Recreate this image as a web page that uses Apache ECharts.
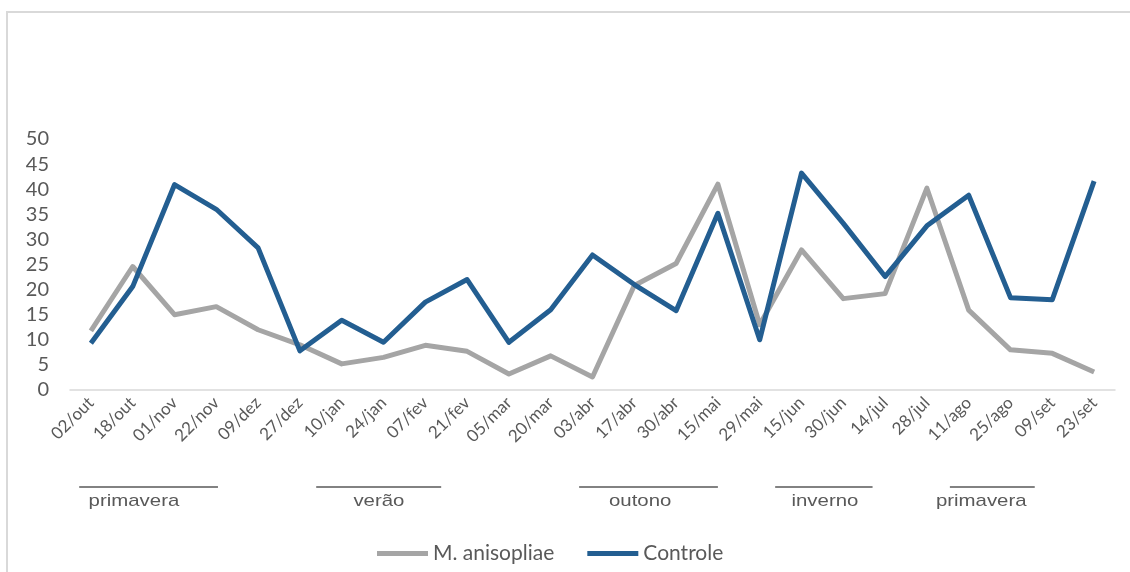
<!DOCTYPE html>
<html>
<head>
<meta charset="utf-8">
<script src="https://cdn.jsdelivr.net/npm/echarts@6/dist/echarts.min.js"></script>
<style>
  html, body { margin: 0; padding: 0; background: #fff; }
  #chart { width: 1130px; height: 572px; }
</style>
</head>
<body>
<div id="chart"></div>
<script>
const categories = ['02/out', '18/out', '01/nov', '22/nov', '09/dez', '27/dez', '10/jan', '24/jan', '07/fev', '21/fev',
  '05/mar', '20/mar', '03/abr', '17/abr', '30/abr', '15/mai', '29/mai', '15/jun', '30/jun', '14/jul',
  '28/jul', '11/ago', '25/ago', '09/set', '23/set']
const anisopliae = [11.8, 24.6, 15.0, 16.6, 12.0, 9.0, 5.2, 6.5, 8.9, 7.7,
  3.2, 6.8, 2.6, 20.8, 25.2, 41.0, 13.0, 27.9, 18.2, 19.2,
  40.2, 15.9, 8.0, 7.3, 3.6]
const controle = [9.3, 20.6, 40.9, 36.0, 28.3, 7.8, 13.9, 9.5, 17.5, 22.0,
  9.5, 16.0, 26.9, 21.0, 15.8, 35.2, 10.0, 43.2, 33.2, 22.6,
  32.7, 38.8, 18.4, 18.0, 41.6]
const yTicks = [0, 5, 10, 15, 20, 25, 30, 35, 40, 45, 50]
// seasons: from / to / label centre, given in category index units
const seasonNames = ['primavera', 'verão', 'outono', 'inverno', 'primavera']
const seasonFrom = [-0.28, 5.39, 11.68, 16.37, 20.55]
const seasonTo = [3.04, 8.38, 15.0, 18.7, 22.58]
const seasonMid = [1.03, 6.89, 13.14, 17.56, 21.3]

const grey = '#A5A5A5'
const blue = '#235E91'
const textCol = '#595959'

var myChart = echarts.init(document.getElementById('chart'))
var option = {
  animation: false,
  grid: { left: 70, right: 15, top: 139, bottom: 182 },
  legend: {
    left: 372,
    top: 538,
    icon: 'rect',
    itemWidth: 51,
    itemHeight: 5,
    itemGap: 33,
    textStyle: { fontFamily: 'Lato', fontSize: 21, color: textCol },
    data: ['M. anisopliae', 'Controle']
  },
  xAxis: {
    type: 'category',
    data: categories,
    boundaryGap: true,
    axisLine: { lineStyle: { color: '#D9D9D9', width: 1.5 } },
    axisTick: { length: 5, lineStyle: { color: '#D9D9D9', width: 1.5 } },
    axisLabel: {
      interval: 0,
      rotate: 45,
      margin: 10,
      fontFamily: 'Lato',
      fontSize: 17,
      color: textCol
    }
  },
  yAxis: {
    type: 'value',
    min: yTicks[0],
    max: yTicks[yTicks.length - 1],
    interval: yTicks[1] - yTicks[0],
    splitLine: { show: false },
    axisLine: { show: false },
    axisTick: { show: false },
    axisLabel: { margin: 21, fontFamily: 'Lato', fontSize: 20, color: textCol }
  },
  series: [
    {
      name: 'M. anisopliae',
      type: 'line',
      data: anisopliae,
      symbol: 'none',
      color: grey,
      lineStyle: { width: 5, color: grey, join: 'round' }
    },
    {
      name: 'Controle',
      type: 'line',
      data: controle,
      symbol: 'none',
      color: blue,
      lineStyle: { width: 5, color: blue, join: 'round' }
    }
  ]
}
myChart.setOption(option)

// season marks under the axis, placed from the category scale
var x0 = myChart.convertToPixel({ xAxisIndex: 0 }, 0)
var x1 = myChart.convertToPixel({ xAxisIndex: 0 }, 1)
var step = x1 - x0
var gfx = [{
  type: 'rect',
  shape: { x: 7, y: 12, width: 1140, height: 600 },
  style: { fill: 'none', stroke: '#D9D9D9', lineWidth: 2 },
  silent: true
}]
seasonNames.forEach(function (name, i) {
  gfx.push({
    type: 'line',
    shape: { x1: x0 + step * seasonFrom[i], y1: 487, x2: x0 + step * seasonTo[i], y2: 487 },
    style: { stroke: textCol, lineWidth: 1.5 }
  })
  gfx.push({
    type: 'text',
    x: x0 + step * seasonMid[i],
    y: 501,
    scaleX: 1.2,
    style: {
      text: name,
      fill: textCol,
      font: '17px "Liberation Sans"',
      align: 'center',
      verticalAlign: 'middle'
    }
  })
})
myChart.setOption({ graphic: gfx })
</script>
</body>
</html>
